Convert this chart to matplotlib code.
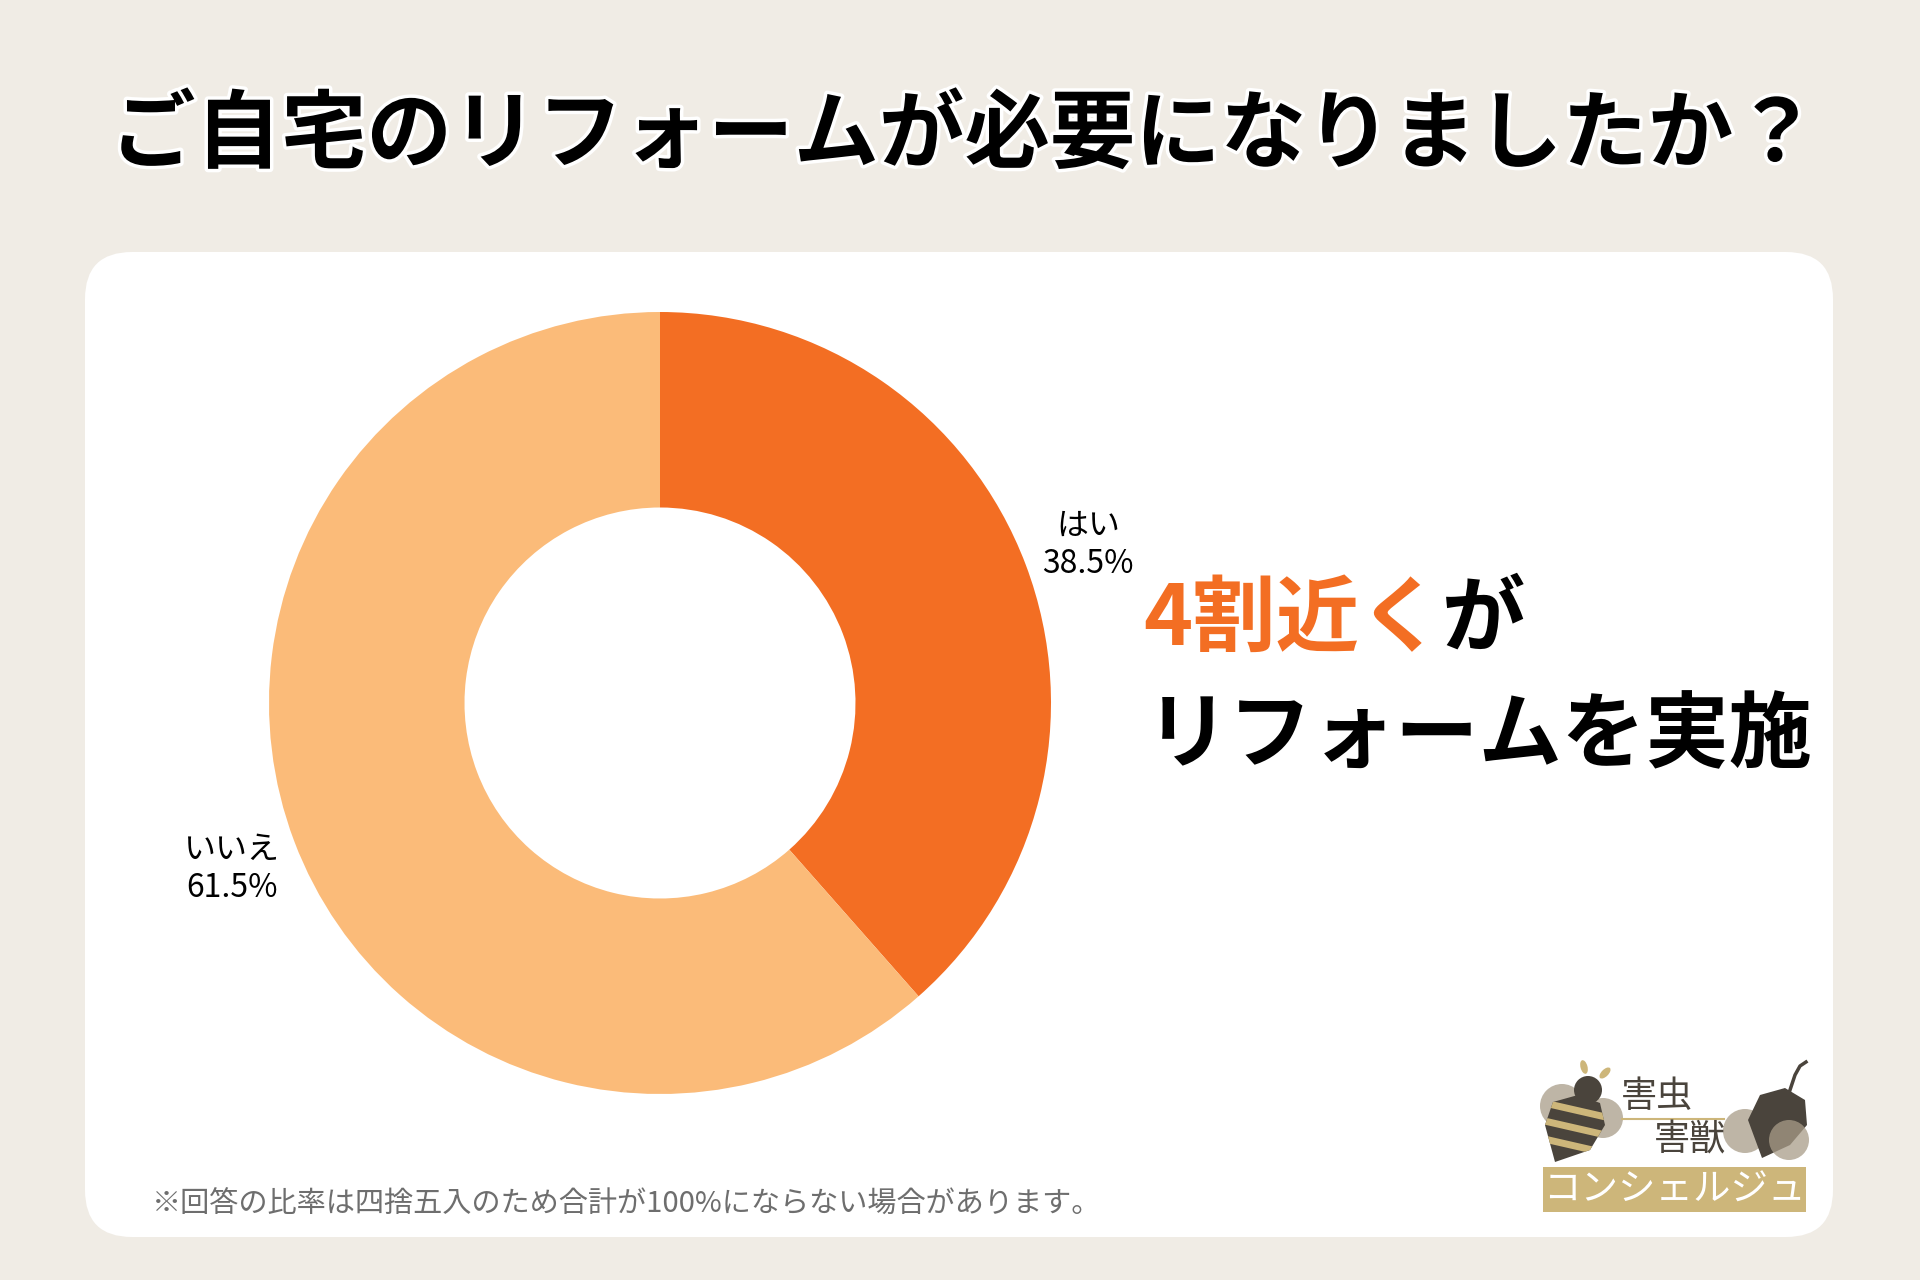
import matplotlib
matplotlib.use("Agg")
import matplotlib.pyplot as plt
import matplotlib.patheffects as pe
from matplotlib.patches import FancyBboxPatch, Rectangle, Circle, Ellipse, Polygon

plt.rcParams['font.family'] = ['Noto Sans CJK JP', 'DejaVu Sans']

# ---- data ----
title = "ご自宅のリフォームが必要になりましたか？"
categories = ["はい", "いいえ"]
values = [38.5, 61.5]
colors = ["#F36E23", "#FBBB79"]
headline_accent = "4割近く"
headline_rest1 = "が"
headline_line2 = "リフォームを実施"
footnote = "※回答の比率は四捨五入のため合計が100%にならない場合があります。"

BG = "#F0ECE5"
W, H = 1920, 1280
fig = plt.figure(figsize=(W / 100, H / 100), dpi=100)
fig.patch.set_facecolor(BG)

# overlay axes in pixel coordinates
ov = fig.add_axes([0, 0, 1, 1])
ov.set_xlim(0, W)
ov.set_ylim(H, 0)
ov.axis("off")

panel = FancyBboxPatch((85, 252), 1833 - 85, 1237 - 252,
                       boxstyle="round,pad=0,rounding_size=47",
                       facecolor="white", edgecolor="none")
ov.add_patch(panel)

# title
ov.text(W / 2 + 4, 136, title, ha="center", va="center", fontsize=61.5,
        fontweight="bold", color="black",
        path_effects=[pe.withStroke(linewidth=5, foreground="white")])

# donut
cx, cy, r = 660, 703, 391
ax = fig.add_axes([(cx - r) / W, (H - cy - r) / H, 2 * r / W, 2 * r / H])
labels = [f"{c}\n{v}%" for c, v in zip(categories, values)]
wedges, texts = ax.pie(values, colors=colors, startangle=90, counterclock=False,
                       radius=1, labels=labels, labeldistance=1.17,
                       wedgeprops=dict(width=0.5, edgecolor="none"),
                       textprops=dict(fontsize=23, ha="center", va="center",
                                      linespacing=1.25))
for t in texts:
    x, y = t.get_position()
    t.set_position((x, y - 0.01))
ax.set_xlim(-1, 1)
ax.set_ylim(-1, 1)
ax.set_aspect("equal")
ax.axis("off")

# headline
t1 = ov.text(1143, 620, headline_accent, ha="left", va="center", fontsize=60,
             fontweight="bold", color="#F36E23")
fig.canvas.draw()
bb = t1.get_window_extent()
x_end = bb.x1
ov.text(x_end, 620, headline_rest1, ha="left", va="center", fontsize=60,
        fontweight="bold", color="black")
ov.text(1146, 737, headline_line2, ha="left", va="center", fontsize=60,
        fontweight="bold", color="black")

# footnote
ov.text(152, 1205, footnote, ha="left", va="center", fontsize=21, color="#6E6E6E")

# logo (decorative)
gold = "#CDB67A"
dark = "#4A443C"
taupe = "#A89C88"
ov.add_patch(Rectangle((1543, 1167), 263, 45, facecolor=gold, edgecolor="none"))
ov.text(1674, 1190, "コンシェルジュ", ha="center", va="center", fontsize=27,
        color="white")
ov.text(1657, 1097, "害虫", ha="center", va="center", fontsize=26, color=dark)
ov.plot([1622, 1724], [1119, 1119], color=gold, lw=1.5)
ov.text(1690, 1140, "害獣", ha="center", va="center", fontsize=26, color=dark)
# bee
ov.add_patch(Circle((1562, 1106), 22, facecolor=taupe, alpha=0.75, edgecolor="none"))
ov.add_patch(Circle((1603, 1118), 20, facecolor=taupe, alpha=0.75, edgecolor="none"))
body = Polygon([(1555, 1162), (1545, 1125), (1553, 1102), (1578, 1095),
                (1600, 1103), (1605, 1125), (1590, 1150)],
               closed=True, facecolor=dark, edgecolor="none")
ov.add_patch(body)
for y0 in [1110, 1128, 1146]:
    ln, = ov.plot([1540, 1610], [y0 - 8, y0 + 8], color=gold, lw=5,
                  solid_capstyle="butt")
    ln.set_clip_path(body)
ov.add_patch(Circle((1588, 1090), 14, facecolor=dark, edgecolor="none"))
ov.add_patch(Ellipse((1584, 1067), 7, 14, angle=-15, facecolor=gold, edgecolor="none"))
ov.add_patch(Ellipse((1605, 1073), 7, 14, angle=45, facecolor=gold, edgecolor="none"))
# mouse-like
ov.add_patch(Circle((1745, 1131), 22, facecolor=taupe, alpha=0.75, edgecolor="none"))
ov.add_patch(Polygon([(1762, 1158), (1748, 1120), (1760, 1095), (1785, 1088),
                      (1805, 1100), (1807, 1125), (1790, 1145)],
                     closed=True, facecolor=dark, edgecolor="none"))
ov.add_patch(Circle((1789, 1140), 20, facecolor=taupe, alpha=0.75, edgecolor="none"))
ov.plot([1790, 1795, 1800, 1806], [1090, 1075, 1066, 1062], color=dark, lw=2.5)

fig.savefig("out.png", dpi=100, facecolor=BG)
